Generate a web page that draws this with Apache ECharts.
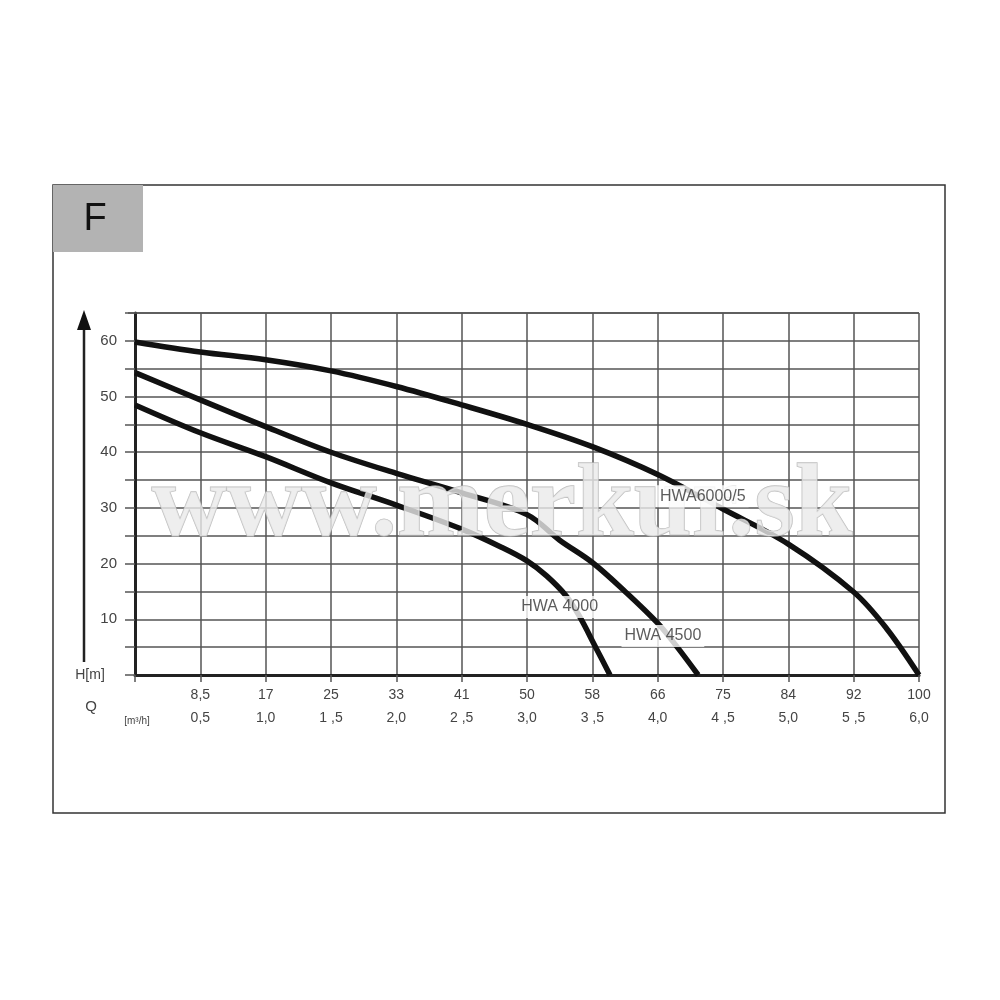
<!DOCTYPE html>
<html><head><meta charset="utf-8">
<script src="https://cdn.jsdelivr.net/npm/echarts@6/dist/echarts.min.js"></script>
<style>html,body{margin:0;padding:0;background:#fff}#c{width:1000px;height:1000px}</style>
</head><body><div id="c"></div>
<script>
// x = grid step index (0..12), y = head H [m]
const flowLmin = ['', '8,5', '17', '25', '33', '41', '50', '58', '66', '75', '84', '92', '100'];
const flowM3h = ['', '0,5', '1,0', '1 ,5', '2,0', '2 ,5', '3,0', '3 ,5', '4,0', '4 ,5', '5,0', '5 ,5', '6,0'];
const hwa6000 = [[0,59.8],[1,58],[2,56.6],[3,54.6],[4,51.8],[5,48.5],[6,45],[7,41],[8,36],[9,29.8],[10,23.5],[11,14.9],[11.5,8.4],[12,0]];
const hwa4500 = [[0,54.3],[1,49.4],[2,44.6],[3,40],[4,36.2],[5,32.7],[6,28.8],[6.5,24.2],[7,20.2],[7.5,15],[8,9.3],[8.3,5],[8.62,0]];
const hwa4000 = [[0,48.5],[1,43.5],[2,39.2],[3,34.5],[4,30.5],[5,26.2],[5.6,23],[6,20.5],[6.3,17.8],[6.6,14.2],[6.8,10.6],[7.05,5],[7.27,0]];
const curveLabels = [
  {name: 'HWA6000/5', value: [8.69, 32.1]},
  {name: 'HWA 4000', value: [6.5, 12.2]},
  {name: 'HWA 4500', value: [8.08, 7.0]}
];
const yTicks = [10, 20, 30, 40, 50, 60];

const chart = echarts.init(document.getElementById('c'), null, {renderer: 'canvas'});
const gridColor = '#555';
const curveStyle = {color: '#111', width: 5.5, cap: 'butt'};
const lineSeries = (name, data) => ({
  name, type: 'line', data, smooth: 0.35, showSymbol: false,
  lineStyle: curveStyle, z: 3, silent: true
});

chart.setOption({
  animation: false,
  backgroundColor: '#fff',
  grid: {left: 135, right: 81, top: 313, bottom: 325, show: false},
  xAxis: {
    type: 'value', min: 0, max: 12, interval: 1,
    axisLine: {show: true, lineStyle: {color: '#222', width: 3}},
    axisTick: {show: true, length: 7, lineStyle: {color: gridColor, width: 1.5}},
    splitLine: {show: true, lineStyle: {color: gridColor, width: 1.5}},
    axisLabel: {
      margin: 9, color: '#444', fontFamily: 'Liberation Sans, Arial', fontSize: 14,
      lineHeight: 23,
      formatter: v => { const i = Math.round(v); return flowLmin[i] ? flowLmin[i] + '\n' + flowM3h[i] : ''; }
    }
  },
  yAxis: {
    type: 'value', min: 0, max: 65, interval: 5,
    axisLine: {show: true, lineStyle: {color: '#222', width: 3}},
    axisTick: {show: true, length: 10, lineStyle: {color: gridColor, width: 1.5}},
    splitLine: {show: true, lineStyle: {color: gridColor, width: 1.5}},
    axisLabel: {
      margin: 18, color: '#444', fontFamily: 'Liberation Sans, Arial', fontSize: 15,
      formatter: v => yTicks.includes(v) ? String(v) : ''
    }
  },
  series: [
    lineSeries('HWA6000/5', hwa6000),
    lineSeries('HWA 4500', hwa4500),
    lineSeries('HWA 4000', hwa4000),
    {
      type: 'scatter', data: curveLabels, symbolSize: 0, z: 20, silent: true,
      label: {
        show: true, position: 'inside', formatter: p => p.name,
        color: '#333', fontFamily: 'Liberation Sans, Arial', fontSize: 16,
        backgroundColor: '#fff', padding: [3, 3]
      }
    }
  ],
  graphic: [
    {type: 'rect', shape: {x: 53, y: 185, width: 892, height: 628}, style: {fill: 'none', stroke: '#333', lineWidth: 1.5}, z: 0},
    {type: 'rect', shape: {x: 53, y: 185, width: 90, height: 67}, style: {fill: '#b3b3b3'}, z: 1},
    {type: 'text', x: 95, y: 220, style: {text: 'F', fill: '#111', font: '38px "Liberation Sans", Arial', align: 'center', verticalAlign: 'middle'}, z: 2},
    {type: 'line', shape: {x1: 84, y1: 325, x2: 84, y2: 662}, style: {stroke: '#222', lineWidth: 2.5}, z: 2},
    {type: 'polygon', shape: {points: [[84, 310], [77, 330], [91, 330]]}, style: {fill: '#111'}, z: 2},
    {type: 'line', shape: {x1: 128, y1: 313, x2: 919, y2: 313}, style: {stroke: gridColor, lineWidth: 1.5}, z: 1},
    {type: 'text', x: 90, y: 675, style: {text: 'H[m]', fill: '#444', font: '14px "Liberation Sans", Arial', align: 'center', verticalAlign: 'middle'}, z: 2},
    {type: 'text', x: 91, y: 707, style: {text: 'Q', fill: '#444', font: '15px "Liberation Sans", Arial', align: 'center', verticalAlign: 'middle'}, z: 2},
    {type: 'text', x: 137, y: 721, style: {text: '[m³/h]', fill: '#444', font: '10px "Liberation Sans", Arial', align: 'center', verticalAlign: 'middle'}, z: 2},
    {type: 'text', x: 502, y: 508, style: {text: 'www.merkur.sk', fill: 'rgba(234,234,234,0.8)', stroke: 'rgba(180,180,180,0.85)', lineWidth: 1.3, font: 'bold 104px "Liberation Serif", "DejaVu Serif", serif', align: 'center', verticalAlign: 'middle'}, z: 4, silent: true}
  ]
});
</script></body></html>
